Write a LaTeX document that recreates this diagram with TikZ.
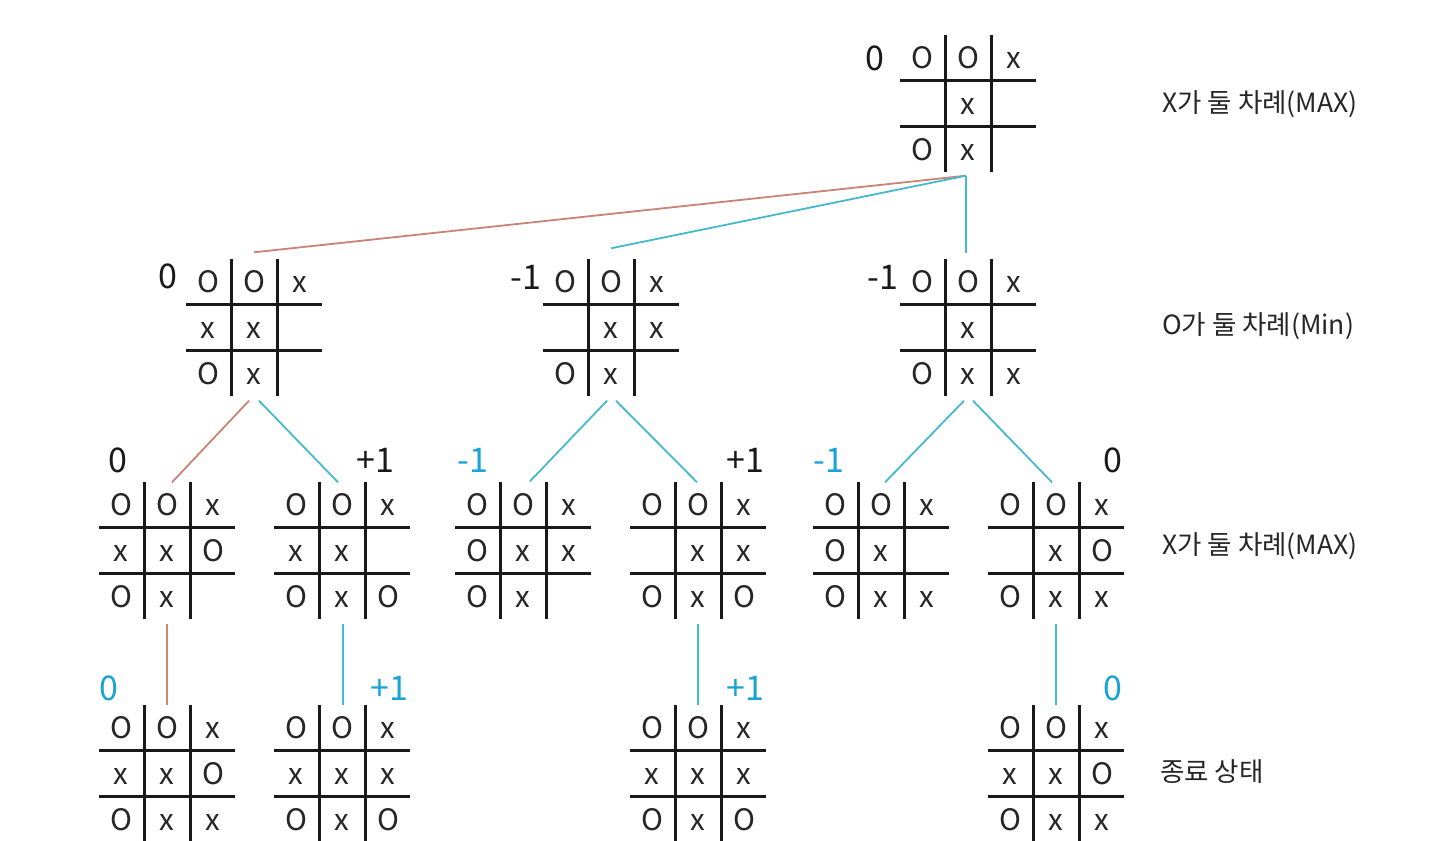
\documentclass[tikz,border=0pt]{standalone}
\usepackage{fontspec}
\newfontfamily\kr{Noto Sans CJK KR}
\usetikzlibrary{calc}
\definecolor{redline}{HTML}{C98473}
\definecolor{cyanline}{HTML}{45B9CE}
\definecolor{bluetxt}{HTML}{1AA3D8}
\tikzset{
  boardbox/.style={inner sep=0pt, minimum size=137pt},
  gridline/.style={line width=3pt, black!90},
  cell/.style={inner sep=0pt, anchor=base, font=\kr\fontsize{29.5}{29.5}\selectfont, text=black!85},
  score/.style={inner sep=0pt, font=\kr\fontsize{34}{34}\selectfont, text=black!90},
  bscore/.style={score, text=bluetxt},
  sidelabel/.style={inner sep=0pt, font=\kr\fontsize{26.5}{26.5}\selectfont, text=black!85},
  redc/.style={line width=1.8pt, redline},
  cyanc/.style={line width=1.8pt, cyanline}
}
\newcommand\tttboard[4]{%
  \node[boardbox] (#1) at (#2,#3) {};
  \draw[gridline] (#2-23,#3-68) -- (#2-23,#3+69);
  \draw[gridline] (#2+23,#3-68) -- (#2+23,#3+69);
  \draw[gridline] (#2-68,#3-23) -- (#2+68,#3-23);
  \draw[gridline] (#2-68,#3+23) -- (#2+68,#3+23);
  \foreach \v [count=\k from 0] in {#4} {%
    \pgfmathtruncatemacro\cc{mod(\k,3)-1}%
    \pgfmathtruncatemacro\rr{div(\k,3)-1}%
    \node[cell] (#1-\k) at (#2+46*\cc,#3+46*\rr+11.5) {\v};
  }%
}
\begin{document}
\begin{tikzpicture}[x=1pt,y=-1pt]
\useasboundingbox (0,0) rectangle (1436,841);
\clip (0,0) rectangle (1436,841);
\fill[white] (0,0) rectangle (1436,841);

% level 1
\tttboard{b0}{968}{103}{O,O,x,{},x,{},O,x,{}}
% level 2
\tttboard{b1}{254}{327}{O,O,x,x,x,{},O,x,{}}
\tttboard{b2}{611}{327}{O,O,x,{},x,x,O,x,{}}
\tttboard{b3}{968}{327}{O,O,x,{},x,{},O,x,x}
% level 3
\tttboard{b11}{167}{550}{O,O,x,x,x,O,O,x,{}}
\tttboard{b12}{342}{550}{O,O,x,x,x,{},O,x,O}
\tttboard{b21}{523}{550}{O,O,x,O,x,x,O,x,{}}
\tttboard{b22}{698}{550}{O,O,x,{},x,x,O,x,O}
\tttboard{b31}{881}{550}{O,O,x,O,x,{},O,x,x}
\tttboard{b32}{1056}{550}{O,O,x,{},x,O,O,x,x}
% level 4
\tttboard{b111}{167}{773}{O,O,x,x,x,O,O,x,x}
\tttboard{b121}{342}{773}{O,O,x,x,x,x,O,x,O}
\tttboard{b221}{698}{773}{O,O,x,x,x,x,O,x,O}
\tttboard{b321}{1056}{773}{O,O,x,x,x,O,O,x,x}

% scores
\node[score] (s0) at (875,58) {0};
\node[score] (s1) at (168,276) {0};
\node[score] (s2) at (526,277) {-1};
\node[score] (s3) at (883,277) {-1};
\node[score] (s11) at (118,460) {0};
\node[score] (s12) at (375,460) {+1};
\node[bscore] (s21) at (473,460) {-1};
\node[score] (s22) at (745,460) {+1};
\node[bscore] (s31) at (829,460) {-1};
\node[score] (s32) at (1113,460) {0};
\node[bscore] (s111) at (109,688) {0};
\node[bscore] (s121) at (389,688) {+1};
\node[bscore] (s221) at (745,688) {+1};
\node[bscore] (s321) at (1113,688) {0};

% side labels
\node[sidelabel] (l1) at (1260,104) {X가 둘 차례(MAX)};
\node[sidelabel] (l2) at (1258,326) {O가 둘 차례(Min)};
\node[sidelabel] (l3) at (1260,546) {X가 둘 차례(MAX)};
\node[sidelabel] (l4) at (1212,772) {종료 상태};

% connectors level 1 -> 2
\coordinate (c0) at ($(b0.south)+(-2,4)$);
\draw[redc] (c0) -- ($(b1.north)+(0,-6)$);
\draw[cyanc] (c0) -- ($(b2.north)+(0,-10)$);
\draw[cyanc] (c0) -- ($(b3.north)+(-2,-5)$);
% level 2 -> 3
\draw[redc] ($(b1.south)+(-5,5)$) -- ($(b11.north)+(5,1)$);
\draw[cyanc] ($(b1.south)+(5,5)$) -- ($(b12.north)+(-4,1)$);
\draw[cyanc] ($(b2.south)+(-4,5)$) -- ($(b21.north)+(7,0)$);
\draw[cyanc] ($(b2.south)+(5,5)$) -- ($(b22.north)+(-1,1)$);
\draw[cyanc] ($(b3.south)+(-4,5)$) -- ($(b31.north)+(4,1)$);
\draw[cyanc] ($(b3.south)+(5,5)$) -- ($(b32.north)+(-4,1)$);
% level 3 -> 4
\draw[redc] ($(b11.south)+(0,5)$) -- ($(b111.north)+(0,1)$);
\draw[cyanc] ($(b12.south)+(1,5)$) -- ($(b121.north)+(1,1)$);
\draw[cyanc] ($(b22.south)+(0,5)$) -- ($(b221.north)+(0,1)$);
\draw[cyanc] ($(b32.south)+(0,5)$) -- ($(b321.north)+(0,1)$);
\end{tikzpicture}
\end{document}
